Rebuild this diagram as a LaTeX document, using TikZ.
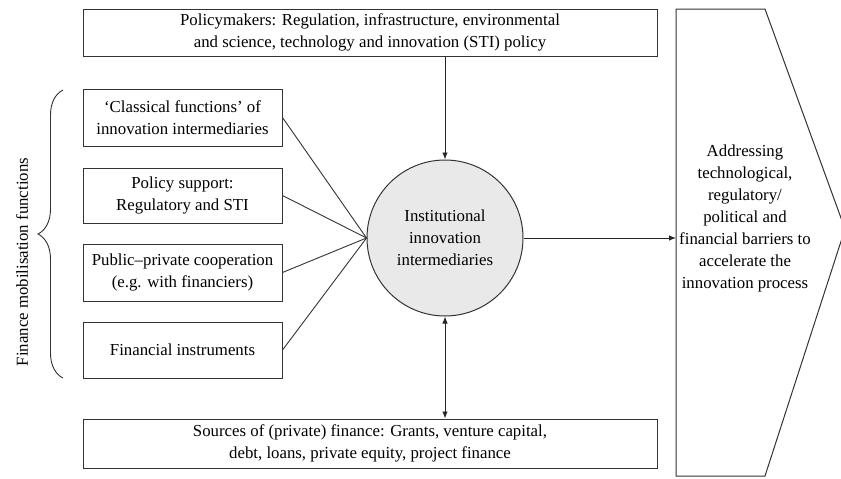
\documentclass[tikz,border=0pt]{standalone}
\usepackage{fontspec}
\setmainfont{Liberation Serif}
\usetikzlibrary{arrows.meta,decorations.pathreplacing}
\begin{document}
\begin{tikzpicture}[x=1pt,y=-1pt,
  txt/.style={align=center, font=\fontsize{16.8}{22}\selectfont},
  box/.style={txt, draw=black!80, line width=1pt, inner sep=0pt},
  ln/.style={draw=black!80, line width=0.9pt},
  arr/.style={draw=black!85, line width=0.9pt, -{Latex[length=7pt,width=5.5pt]}},
  darr/.style={draw=black!85, line width=0.9pt, {Latex[length=7pt,width=5.5pt]}-{Latex[length=7pt,width=5.5pt]}}]
\useasboundingbox (0,0) rectangle (841,479);
% top box
\node[box, minimum width=574pt, minimum height=47pt] (top) at (370,32.5)
  {Policymakers: Regulation, infrastructure, environmental\\ and science, technology and innovation (STI) policy};
% left boxes
\node[box, minimum width=199pt, minimum height=57pt] (b1) at (182.5,117.5)
  {`Classical functions' of\\ innovation intermediaries};
\node[box, minimum width=199pt, minimum height=55pt] (b2) at (182.5,195.5)
  {Policy support:\\ Regulatory and STI};
\node[box, minimum width=199pt, minimum height=57pt] (b3) at (182.5,272.5)
  {Public--private cooperation\\ (e.g. with financiers)};
\node[box, minimum width=199pt, minimum height=56pt] (b4) at (182.5,350)
  {Financial instruments};
% circle
\node[circle, txt, draw=black!80, line width=1pt, fill=gray!17, minimum size=156pt, inner sep=0pt] (c) at (445,238)
  {Institutional\\ innovation\\ intermediaries};
% bottom box
\node[box, minimum width=574pt, minimum height=49pt] (bot) at (370,443.5)
  {Sources of (private) finance: Grants, venture capital,\\ debt, loans, private equity, project finance};
% pentagon arrow
\draw[ln, line width=1pt] (676,9) -- (765,9) -- (845,229) -- (765,476) -- (676,476) -- cycle;
\coordinate (pentW) at (676,238);
\node[txt] (pt) at (745,218)
  {Addressing\\ technological,\\ regulatory/\\ political and\\ financial barriers to\\ accelerate the\\ innovation process};
% brace and label
\draw[ln, decorate, decoration={brace, amplitude=25pt, aspect=0.5}] (63,378) -- (63,90);
\node[txt, rotate=90] (fm) at (22,262) {Finance mobilisation functions};
% connectors
\draw[ln] (b1.east) -- (c.west);
\draw[ln] (b2.east) -- (c.west);
\draw[ln] (b3.east) -- (c.west);
\draw[ln] (b4.east) -- (c.west);
\draw[arr] (c.north |- top.south) -- (c.north);
\draw[darr] (c.south) -- (c.south |- bot.north);
\draw[arr] (c.east) -- (pentW);
\end{tikzpicture}
\end{document}
